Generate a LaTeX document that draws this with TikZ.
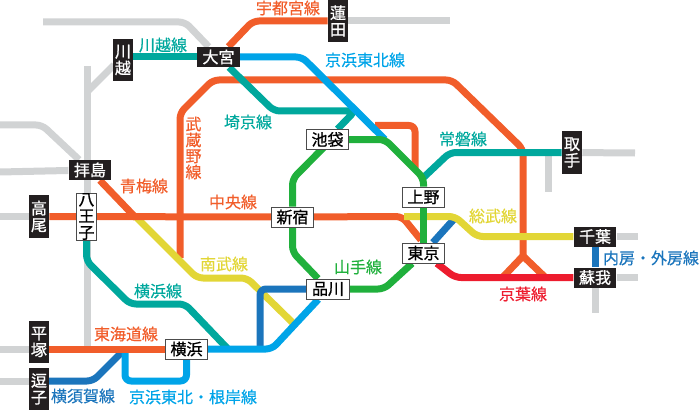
\documentclass[tikz,border=0pt]{standalone}
\usepackage{fontspec}
\setmainfont{Noto Sans CJK JP}
\newfontfamily\stnfont[FakeBold=1]{Noto Sans CJK JP}
\newfontfamily\routefont[FakeBold=.4]{Noto Sans CJK JP}
\usepackage{xcolor}
\usetikzlibrary{backgrounds}
\definecolor{lineorange}{HTML}{F15D2A}
\definecolor{lineteal}{HTML}{00A89D}
\definecolor{lineblue}{HTML}{00A4E8}
\definecolor{linenavy}{HTML}{1B75BC}
\definecolor{linegreen}{HTML}{20B03C}
\definecolor{lineyellow}{HTML}{E2D636}
\definecolor{linered}{HTML}{ED1C2E}
\definecolor{linegray}{HTML}{D1D3D4}
\definecolor{stnblack}{HTML}{231F20}
\tikzset{
  route/.style={line width=5.25pt,rounded corners=4.5pt,line join=round},
  darkstn/.style={fill=stnblack,text=white,inner sep=0pt,minimum width=32pt,minimum height=15pt,font=\fontsize{12}{12.5}\selectfont\stnfont,align=center},
  darkstnv/.style={darkstn,minimum width=15pt,minimum height=32pt},
  lightstn/.style={darkstn,fill=white,text=black,draw=black!70,line width=.6pt},
  lightstnv/.style={lightstn,minimum width=15pt,minimum height=32pt},
  linelabel/.style={inner sep=0pt,font=\fontsize{12}{12}\selectfont\routefont,align=center}
}
\begin{document}
\begin{tikzpicture}[x=.75pt,y=-.75pt]
\useasboundingbox (0,0) rectangle (700,410);
% stations
\node[darkstn] (oomiya) at (218.5,57) {大宮};
\node[darkstnv] (kawagoe) at (123,60) {川\\越};
\node[darkstnv] (hasuda) at (338,21) {蓮\\田};
\node[darkstn] (haijima) at (90,170) {拝島};
\node[lightstnv] (hachioji) at (86.5,216.5) {八\\王\\子};
\node[darkstnv] (takao) at (39,216.5) {高\\尾};
\node[darkstnv] (hiratsuka) at (39,342) {平\\塚};
\node[darkstnv] (zushi) at (39,389) {逗\\子};
\node[lightstn] (yokohama) at (186.5,349) {横浜};
\node[lightstn] (shinjuku) at (292.5,217) {新宿};
\node[lightstn] (shinagawa) at (328,289) {品川};
\node[lightstn] (ikebukuro) at (327.5,139.5) {池袋};
\node[lightstn] (ueno) at (423.5,197) {上野};
\node[lightstn] (tokyo) at (423.5,253) {東京};
\node[darkstn] (chiba) at (595,236.5) {千葉};
\node[darkstn] (soga) at (595,277.5) {蘇我};
\node[darkstnv] (toride) at (572,152.5) {取\\手};
% free ends
\coordinate (grayNW) at (43,22);
\coordinate (grayNE) at (450,21);
\coordinate (grayN) at (87,66);
\coordinate (grayS) at (87,349);
\coordinate (grayK) at (114,65);
\coordinate (grayKJ) at (87,92);
\coordinate (grayA) at (0,125);
\coordinate (grayB) at (0,172);
\coordinate (grayC) at (0,216.5);
\coordinate (grayD) at (0,349);
\coordinate (grayE) at (0,381);
\coordinate (grayT) at (635,153);
\coordinate (grayU) at (548,155);
\coordinate (grayV) at (548,192);
\coordinate (grayX) at (638,236.5);
\coordinate (grayY) at (638,277.5);
\coordinate (grayZ) at (595,313);
\coordinate (nipporiJ) at (385,139.5);
\coordinate (tabataJ) at (375,125.5);
\coordinate (ikebukuroS) at (330,141);
\coordinate (nagahara) at (415,168);
\coordinate (nishikokJ) at (180,258);
\coordinate (nambuS) at (136,217);
\coordinate (nambuE) at (296,326);
\coordinate (omeJ) at (136,218);
\coordinate (chuoJ) at (421,240);
\coordinate (sobuW) at (404,216.5);
\coordinate (sobuJ) at (455,218);
\coordinate (ofuna) at (125,349);
\coordinate (zushiE) at (48,381);
\coordinate (yokoJ) at (228,349);
\coordinate (tsurumi) at (260,349);
\coordinate (keiyoL) at (502,278);
\coordinate (keiyoR) at (546,278);
\coordinate (apex) at (523,256);
% routes
\begin{scope}[on background layer]
\draw[route,linegray] (grayNW) -- (185,22) -- (oomiya);
\draw[route,linegray] (hasuda) -- (grayNE);
\draw[route,linegray] (grayN) -- (grayS);
\draw[route,linegray] (grayK) -- (grayKJ);
\draw[route,linegray] (grayA) -- (42,125) -- (haijima);
\draw[route,linegray] (grayB) -- (haijima);
\draw[route,linegray] (grayC) -- (takao);
\draw[route,linegray] (grayD) -- (hiratsuka.west |- grayD);
\draw[route,linegray] (grayE) -- (zushi.west |- grayE);
\draw[route,linegray] (toride) -- (grayT);
\draw[route,linegray] (grayU) -- (grayV);
\draw[route,linegray] (chiba) -- (grayX);
\draw[route,linegray] (soga) -- (grayY);
\draw[route,linegray] (soga) -- (grayZ);
\draw[route,lineorange] (nishikokJ) -- (180,113) -- (213,80) -- (452,80) -- (523,149) -- (apex);
\draw[route,lineorange,line join=miter,rounded corners=0pt] (keiyoL) -- (apex) -- (keiyoR);
\draw[route,lineteal] (kawagoe.east |- oomiya) -- (oomiya);
\draw[route,lineorange] (oomiya) -- (253,21) -- (hasuda);
\draw[route,lineteal] (oomiya) -- (274,111) -- (355,111) -- (ikebukuro);
\draw[route,lineorange] (tabataJ) -- (415,125.5) -- (nagahara);
\draw[route,lineblue] (oomiya) -- (302,57) -- (nipporiJ);
\draw[route,lineyellow] (nambuS) -- (197,278) -- (247,278) -- (nambuE);
\draw[route,lineorange] (takao) -- (shinjuku) -- (402,216.5) -- (chuoJ);
\draw[route,lineorange] (haijima) -- (omeJ);
\draw[route,linenavy] (tokyo) -- (sobuJ);
\draw[route,lineyellow] (sobuW) -- (455,216.5) -- (477,236.5) -- (chiba);
\draw[route,lineteal] (nipporiJ -| ueno) ++(0,38) -- (450,152.5) -- (toride);
\draw[route,linegreen] (ikebukuro) -- (nipporiJ) -- (423.5,178) -- (ueno);
\draw[route,linegreen] (ueno) -- (tokyo);
\draw[route,linegreen] (tokyo) -- (384,289) -- (shinagawa);
\draw[route,linegreen] (shinagawa) -- (292.5,252) -- (shinjuku);
\draw[route,linegreen] (shinjuku) -- (292.5,179) -- (ikebukuroS);
\draw[route,linered] (tokyo) -- (455,277.5) -- (soga);
\draw[route,lineteal] (hachioji) -- (86.5,261) -- (130,304) -- (185,304) -- (yokoJ);
\draw[route,linenavy] (tsurumi) -- (260,289) -- (shinagawa);
\draw[route,lineblue] (yokohama) -- (272,349) -- (shinagawa);
\draw[route,linenavy] (zushiE) -- (93,381) -- (ofuna);
\draw[route,lineblue] (ofuna) -- (125,381) -- (186.5,381) -- (yokohama);
\draw[route,lineorange] (hiratsuka.east |- yokohama) -- (yokohama);
\draw[route,linenavy] (chiba) -- (soga);
\end{scope}
% labels
\node[linelabel,text=lineorange] (utsunomiyaL) at (288,8) {宇都宮線};
\node[linelabel,text=lineteal] (kawagoeL) at (163,45) {川越線};
\node[linelabel,text=lineblue] (keihinL) at (365,60) {京浜東北線};
\node[linelabel,text=lineteal] (saikyoL) at (248,122) {埼京線};
\node[linelabel,text=lineorange] (musashinoL) at (193.5,148) {武\\蔵\\野\\線};
\node[linelabel,text=lineteal] (jobanL) at (463,139) {常磐線};
\node[linelabel,text=lineorange] (omeL) at (144,186) {青梅線};
\node[linelabel,text=lineorange] (chuoL) at (233,202) {中央線};
\node[linelabel,text=lineyellow] (sobuL) at (493,216) {総武線};
\node[linelabel,text=lineyellow] (nambuL) at (224,264) {南武線};
\node[linelabel,text=lineteal] (yokohamaL) at (158,291) {横浜線};
\node[linelabel,text=linegreen] (yamanoteL) at (358,267) {山手線};
\node[linelabel,text=linered] (keiyoLabel) at (523,294) {京葉線};
\node[linelabel,text=lineorange] (tokaidoL) at (126,334) {東海道線};
\node[linelabel,text=linenavy] (yokosukaL) at (83,396) {横須賀線};
\node[linelabel,text=lineblue] (negishiL) at (193,397) {京浜東北・根岸線};
\node[linelabel,text=linenavy] (sotoboL) at (651,258) {内房・外房線};
\end{tikzpicture}
\end{document}
